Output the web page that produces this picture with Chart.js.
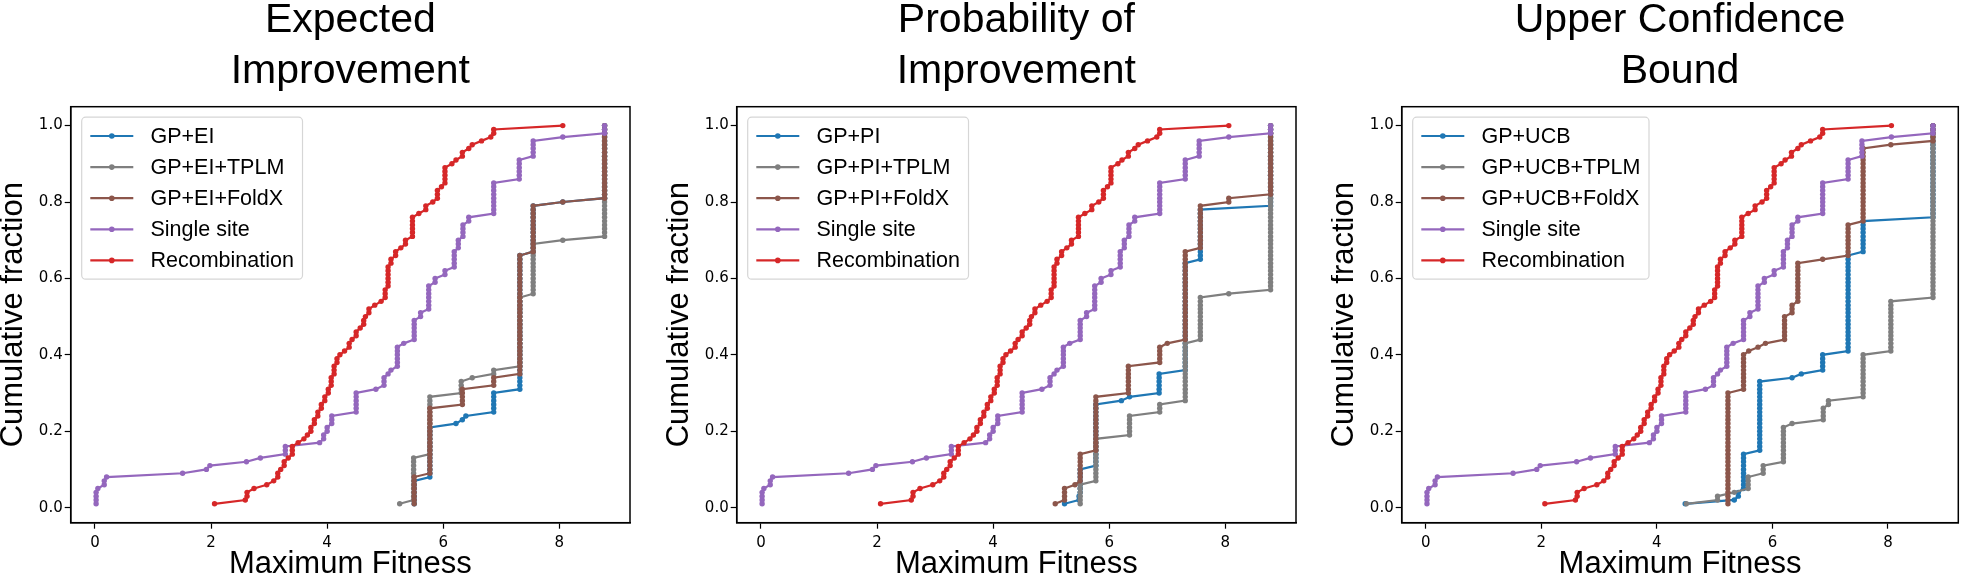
<!DOCTYPE html>
<html>
<head>
<meta charset="utf-8">
<script src="https://cdn.jsdelivr.net/npm/chart.js@4.4.0/dist/chart.umd.min.js"></script>
<style>
  html, body { margin: 0; padding: 0; background: #fff; }
  body { width: 1961px; height: 578px; position: relative; overflow: hidden; }
  canvas { position: absolute; top: 0; }
</style>
</head>
<body>
<canvas id="c1" width="640" height="578" style="left:0px"></canvas>
<canvas id="c2" width="640" height="578" style="left:666px"></canvas>
<canvas id="c3" width="630" height="578" style="left:1331px"></canvas>
<script>
// Each curve is an empirical CDF over 100 runs.
// xs = fitness value of a run of ties, ys = cumulative fraction reached at the top of that run.

// shared curves
const singleX = [0.02, 0.05, 0.16, 0.2, 1.51, 1.92, 1.98, 2.61, 2.85, 3.28, 3.87, 3.94, 4.0, 4.08, 4.5, 4.84, 4.98, 5.05, 5.1, 5.21, 5.32, 5.5, 5.61, 5.75, 5.86, 6.03, 6.19, 6.26, 6.34, 6.44, 6.87, 7.31, 7.55, 8.06, 8.78];
const singleY = [0.04, 0.05, 0.07, 0.08, 0.09, 0.10, 0.11, 0.12, 0.13, 0.16, 0.17, 0.19, 0.21, 0.24, 0.30, 0.31, 0.34, 0.35, 0.36, 0.42, 0.43, 0.49, 0.51, 0.58, 0.60, 0.62, 0.67, 0.70, 0.74, 0.76, 0.85, 0.91, 0.96, 0.97, 1.00];

const recombX = [2.06, 2.59, 2.62, 2.74, 2.96, 3.08, 3.15, 3.2, 3.26, 3.33, 3.4, 3.5, 3.6, 3.66, 3.72, 3.78, 3.84, 3.9, 3.96, 4.02, 4.07, 4.12, 4.17, 4.22, 4.3, 4.38, 4.43, 4.5, 4.57, 4.63, 4.66, 4.72, 4.82, 4.93, 5.0, 5.05, 5.1, 5.18, 5.27, 5.35, 5.47, 5.58, 5.7, 5.82, 5.9, 5.97, 6.03, 6.15, 6.22, 6.33, 6.44, 6.5, 6.66, 6.82, 6.87, 8.06];
const recombY = [0.01, 0.02, 0.04, 0.05, 0.06, 0.07, 0.09, 0.10, 0.12, 0.13, 0.16, 0.17, 0.18, 0.19, 0.21, 0.23, 0.25, 0.27, 0.29, 0.31, 0.34, 0.37, 0.39, 0.40, 0.41, 0.43, 0.44, 0.46, 0.47, 0.49, 0.50, 0.52, 0.53, 0.54, 0.57, 0.63, 0.65, 0.67, 0.68, 0.70, 0.76, 0.77, 0.79, 0.80, 0.83, 0.84, 0.89, 0.90, 0.91, 0.93, 0.94, 0.95, 0.96, 0.97, 0.99, 1.00];

// Expected Improvement
const eiX = [5.5, 5.77, 6.22, 6.33, 6.39, 6.87, 7.32, 7.55, 8.06, 8.78];
const eiY = [0.07, 0.21, 0.22, 0.23, 0.24, 0.30, 0.66, 0.79, 0.80, 1.00];
const eiTplmX = [5.25, 5.49, 5.77, 6.31, 6.5, 6.87, 7.32, 7.55, 8.06, 8.78];
const eiTplmY = [0.01, 0.13, 0.29, 0.33, 0.34, 0.36, 0.55, 0.69, 0.70, 1.00];
const eiFoldxX = [5.5, 5.77, 6.33, 6.87, 7.32, 7.55, 8.06, 8.78];
const eiFoldxY = [0.08, 0.26, 0.31, 0.34, 0.66, 0.79, 0.80, 1.00];

// Probability of Improvement
const piX = [5.23, 5.48, 5.5, 5.77, 6.21, 6.35, 6.86, 7.31, 7.57, 8.78];
const piY = [0.01, 0.03, 0.10, 0.27, 0.28, 0.29, 0.35, 0.64, 0.78, 1.00];
const piTplmX = [5.5, 5.77, 6.35, 6.87, 7.31, 7.57, 8.06, 8.78];
const piTplmY = [0.06, 0.18, 0.24, 0.27, 0.43, 0.55, 0.56, 1.00];
const piFoldxX = [5.07, 5.23, 5.41, 5.5, 5.77, 6.33, 6.87, 7.0, 7.31, 7.57, 8.06, 8.78];
const piFoldxY = [0.01, 0.05, 0.06, 0.14, 0.29, 0.37, 0.42, 0.43, 0.67, 0.79, 0.81, 1.00];

// Upper Confidence Bound
const ucbX = [4.49, 5.34, 5.41, 5.5, 5.78, 6.34, 6.5, 6.87, 7.31, 7.57, 8.78];
const ucbY = [0.01, 0.02, 0.04, 0.14, 0.33, 0.34, 0.35, 0.40, 0.66, 0.75, 1.00];
const ucbTplmX = [4.51, 5.05, 5.34, 5.58, 5.84, 6.19, 6.34, 6.88, 6.97, 7.57, 8.05, 8.78];
const ucbTplmY = [0.01, 0.03, 0.04, 0.08, 0.11, 0.21, 0.22, 0.26, 0.28, 0.40, 0.54, 1.00];
const ucbFoldxX = [5.23, 5.5, 5.59, 5.75, 5.88, 6.21, 6.34, 6.44, 6.87, 7.31, 7.57, 8.05, 8.78];
const ucbFoldxY = [0.30, 0.40, 0.41, 0.42, 0.43, 0.50, 0.53, 0.64, 0.65, 0.74, 0.94, 0.95, 1.00];

const xTicks = [0, 2, 4, 6, 8];
const yTicks = [0, 0.2, 0.4, 0.6, 0.8, 1.0];
const colors = ['#1f77b4', '#7f7f7f', '#8c564b', '#9467bd', '#d62728'];

const panels = [
  { id: 'c1', padRight: 10, title: ['Expected', 'Improvement'],
    labels: ['GP+EI', 'GP+EI+TPLM', 'GP+EI+FoldX', 'Single site', 'Recombination'],
    series: [[eiX, eiY], [eiTplmX, eiTplmY], [eiFoldxX, eiFoldxY], [singleX, singleY], [recombX, recombY]] },
  { id: 'c2', padRight: 10, title: ['Probability of', 'Improvement'],
    labels: ['GP+PI', 'GP+PI+TPLM', 'GP+PI+FoldX', 'Single site', 'Recombination'],
    series: [[piX, piY], [piTplmX, piTplmY], [piFoldxX, piFoldxY], [singleX, singleY], [recombX, recombY]] },
  { id: 'c3', padRight: 1, title: ['Upper Confidence', 'Bound'],
    labels: ['GP+UCB', 'GP+UCB+TPLM', 'GP+UCB+FoldX', 'Single site', 'Recombination'],
    series: [[ucbX, ucbY], [ucbTplmX, ucbTplmY], [ucbFoldxX, ucbFoldxY], [singleX, singleY], [recombX, recombY]] }
];

// one point per run: ties stack up vertically at the same x
function ecdf(xs, ys) {
  const pts = [];
  let n = 0;
  xs.forEach((x, i) => {
    const top = Math.round(ys[i] * 100);
    for (let k = n + 1; k <= top; k++) pts.push({ x: x, y: k / 100 });
    n = top;
  });
  return pts;
}

const SANS = '"Liberation Sans", Arial, Helvetica, sans-serif';

const frame = {
  id: 'frame',
  afterDatasetsDraw(chart) {
    const { ctx, chartArea: a } = chart;
    ctx.save();
    ctx.strokeStyle = '#000';
    ctx.lineWidth = 1.5;
    ctx.strokeRect(a.left, a.top, a.right - a.left, a.bottom - a.top);
    ctx.restore();
  }
};

const panelTitle = {
  id: 'panelTitle',
  afterDraw(chart, args, opts) {
    const { ctx, chartArea: a } = chart;
    ctx.save();
    ctx.font = '41px ' + SANS;
    ctx.fillStyle = '#000';
    ctx.textAlign = 'center';
    ctx.textBaseline = 'alphabetic';
    const cx = (a.left + a.right) / 2;
    opts.lines.forEach((t, i) => ctx.fillText(t, cx, 32 + i * 50.5));
    ctx.restore();
  }
};

// matplotlib style legend box in the upper left corner
const legendBox = {
  id: 'legendBox',
  afterDraw(chart) {
    const { ctx, chartArea: a } = chart;
    const fs = 21.5, pad = 0.4 * fs, handle = 2 * fs, gap = 0.8 * fs, row = 31.1;
    const sets = chart.data.datasets;
    ctx.save();
    ctx.font = fs + 'px ' + SANS;
    const textW = Math.max(...sets.map(d => ctx.measureText(d.label).width));
    const x0 = a.left + 11, y0 = a.top + 10.5;
    const w = pad + handle + gap + textW + pad;
    const h = 2 * pad + row * sets.length - 0.5 * fs;
    ctx.beginPath();
    ctx.roundRect(x0, y0, w, h, 4);
    ctx.fillStyle = 'rgba(255,255,255,0.8)';
    ctx.fill();
    ctx.strokeStyle = '#d6d6d6';
    ctx.lineWidth = 1.2;
    ctx.stroke();
    sets.forEach((d, i) => {
      const cy = y0 + pad + 10.2 + i * row;
      ctx.strokeStyle = d.borderColor;
      ctx.lineWidth = 2.2;
      ctx.beginPath();
      ctx.moveTo(x0 + pad, cy);
      ctx.lineTo(x0 + pad + handle, cy);
      ctx.stroke();
      ctx.fillStyle = d.borderColor;
      ctx.beginPath();
      ctx.arc(x0 + pad + handle / 2, cy, 2.8, 0, 2 * Math.PI);
      ctx.fill();
      ctx.fillStyle = '#000';
      ctx.textAlign = 'left';
      ctx.textBaseline = 'middle';
      ctx.fillText(d.label, x0 + pad + handle + gap, cy + 1);
    });
    ctx.restore();
  }
};

const tickFont = { family: '"DejaVu Sans", sans-serif', size: 15 };
const axisTitleFont = { family: SANS, size: 31, lineHeight: 0.88 };

panels.forEach(p => {
  new Chart(document.getElementById(p.id), {
    type: 'scatter',
    data: {
      datasets: p.series.map((s, i) => ({
        label: p.labels[i],
        data: ecdf(s[0], s[1]),
        showLine: true,
        borderColor: colors[i],
        backgroundColor: colors[i],
        borderWidth: 2.2,
        pointRadius: 2.7,
        pointHoverRadius: 2.7,
        pointBorderWidth: 0,
        tension: 0,
        order: 5 - i
      }))
    },
    options: {
      responsive: false,
      animation: false,
      events: [],
      layout: { padding: { top: 106.7, left: 0, right: p.padRight, bottom: 0 } },
      plugins: {
        legend: { display: false },
        tooltip: { enabled: false },
        panelTitle: { lines: p.title }
      },
      scales: {
        x: {
          type: 'linear',
          min: -0.418,
          max: 9.218,
          afterBuildTicks: s => { s.ticks = xTicks.map(v => ({ value: v })); },
          afterFit: s => { s.height = 55.3; },
          grid: { drawOnChartArea: false, drawTicks: true, tickLength: 6, tickColor: '#000', tickWidth: 1.2 },
          border: { display: true, color: '#000', width: 1.5 },
          ticks: { color: '#000', font: tickFont, padding: 5, maxRotation: 0, callback: v => String(v) },
          title: { display: true, text: 'Maximum Fitness', color: '#000', font: axisTitleFont, padding: 0 }
        },
        y: {
          type: 'linear',
          min: -0.0395,
          max: 1.0495,
          afterBuildTicks: s => { s.ticks = yTicks.map(v => ({ value: v })); },
          afterFit: s => { s.width = 70.7; },
          grid: { drawOnChartArea: false, drawTicks: true, tickLength: 6, tickColor: '#000', tickWidth: 1.2 },
          border: { display: true, color: '#000', width: 1.5 },
          ticks: { color: '#000', font: tickFont, padding: 2, callback: v => v.toFixed(1) },
          title: { display: true, text: 'Cumulative fraction', color: '#000', font: axisTitleFont, padding: 0 }
        }
      }
    },
    plugins: [frame, panelTitle, legendBox]
  });
});
</script>
</body>
</html>
